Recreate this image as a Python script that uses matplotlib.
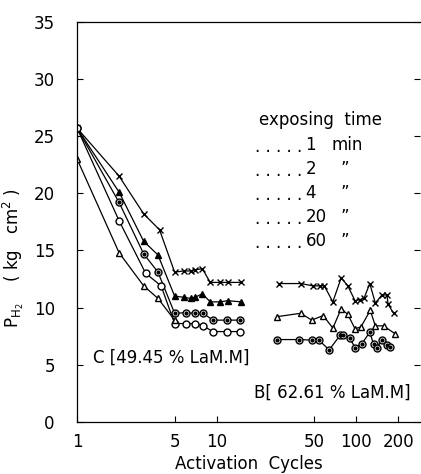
import matplotlib
matplotlib.use("Agg")
import matplotlib.pyplot as plt

# ---------------- data ----------------
# Curve set C [49.45 % LaM.M]
c_x_cycles = [1, 2, 3, 3.9, 5, 5.8, 6.5, 7, 7.9, 9, 10.6, 12, 15]
c_x_vals   = [25.7, 21.5, 18.2, 16.8, 13.1, 13.2, 13.2, 13.3, 13.4, 12.2, 12.2, 12.2, 12.2]

c_tri_cycles = [1, 2, 3, 3.8, 5, 5.8, 6.5, 7, 7.9, 9, 10.6, 12, 15]
c_tri_vals   = [25.7, 20.1, 15.8, 14.6, 11.0, 10.9, 10.8, 10.9, 11.2, 10.5, 10.5, 10.6, 10.5]

c_dot_cycles = [1, 2, 3, 3.8, 5, 6, 7, 8, 9.4, 11.8, 14.7]
c_dot_vals   = [25.7, 19.2, 14.7, 13.1, 9.5, 9.55, 9.5, 9.5, 8.9, 8.9, 8.9]

c_open_cycles = [1, 2, 3.1, 4, 5, 6, 7, 8, 9.4, 11.8, 14.7]
c_open_vals   = [25.7, 17.6, 13.0, 11.9, 8.6, 8.6, 8.6, 8.4, 7.9, 7.9, 7.9]

c_otri_cycles = [1, 2, 3, 3.8, 5]
c_otri_vals   = [23.0, 14.8, 11.9, 10.8, 8.9]

# Curve set B [62.61 % LaM.M]
b_x_cycles = [28, 40, 49, 55, 59, 68, 78, 87, 98, 107, 114, 125, 137, 153, 166, 169, 185]
b_x_vals   = [12.1, 12.1, 11.9, 11.9, 11.9, 10.5, 12.6, 11.9, 10.6, 10.7, 10.85, 12.1, 10.4, 11.1, 11.1, 10.3, 9.5]

b_tri_cycles = [27, 40, 48, 58, 68, 78, 87, 98, 108, 126, 137, 157, 190]
b_tri_vals   = [9.2, 9.5, 8.9, 9.3, 8.2, 9.9, 9.4, 8.15, 8.3, 9.75, 8.4, 8.4, 7.7]

b_dot_cycles = [27, 39, 48, 54, 64, 77, 81, 90, 98, 110, 125, 133, 141, 153, 166, 175]
b_dot_vals   = [7.2, 7.2, 7.15, 7.15, 6.3, 7.6, 7.6, 7.3, 6.5, 6.85, 7.85, 6.8, 6.5, 7.15, 6.7, 6.55]

x_ticks = [1, 5, 10, 50, 100, 200]
x_tick_labels = ["1", "5", "10", "50", "100", "200"]
y_ticks = [0, 5, 10, 15, 20, 25, 30, 35]

legend_title = "exposing  time"
legend_times = ["1", "2", "4", "20", "60"]
legend_units = ["min", "\u201d", "\u201d", "\u201d", "\u201d"]

# ---------------- figure ----------------
plt.rcParams['font.family'] = ['DejaVu Sans']
FS = 12
fig = plt.figure(figsize=(4.21, 4.74), dpi=100)
ax = fig.add_axes([0.183, 0.110, 0.815, 0.844])

lw = 0.9
ms = 5.0
k = 'black'

def curve(xs, ys, marker, mfc, size=ms):
    ax.plot(xs, ys, color=k, lw=lw, marker=marker, ms=size, mfc=mfc, mec=k, mew=1.0)

def dot_curve(xs, ys):
    ax.plot(xs, ys, color=k, lw=lw, marker='o', ms=ms, mfc='white', mec=k, mew=1.0)
    ax.plot(xs, ys, ls='none', marker='o', ms=2.0, mfc=k, mec=k)

curve(c_x_cycles, c_x_vals, 'x', k)
curve(c_tri_cycles, c_tri_vals, '^', k)
dot_curve(c_dot_cycles, c_dot_vals)
curve(c_open_cycles, c_open_vals, 'o', 'white')
curve(c_otri_cycles, c_otri_vals, '^', 'white')

curve(b_x_cycles, b_x_vals, 'x', k)
curve(b_tri_cycles, b_tri_vals, '^', 'white')
dot_curve(b_dot_cycles, b_dot_vals)

ax.set_xscale('log')
ax.set_xlim(1, 287)
ax.set_ylim(0, 35)
ax.set_xticks(x_ticks)
ax.set_xticklabels(x_tick_labels)
ax.xaxis.set_minor_locator(matplotlib.ticker.NullLocator())
ax.set_yticks(y_ticks)

ax.spines['right'].set_visible(False)
for s in ['left', 'bottom', 'top']:
    ax.spines[s].set_linewidth(0.9)
ax.tick_params(axis='both', direction='in', length=4, width=0.8, labelsize=FS)
ax.tick_params(axis='x', pad=8, top=False)
ax.tick_params(axis='y', right=True, left=True, pad=16)

ax.set_xlabel("Activation  Cycles", fontsize=FS)
ax.xaxis.set_label_coords(0.5, -0.082)
ax.set_ylabel(r"P$_{\mathregular{H_2}}$    ( kg   cm$^{\mathregular{2}}$ )", fontsize=FS)
ax.yaxis.set_label_coords(-0.150, 0.41)

# legend-like text block
tr = ax.transAxes
ax.text(0.53, 0.755, legend_title, transform=tr, fontsize=FS, ha='left', va='center')
row_y0 = 0.692
row_dy = 0.060
for i, (t, u) in enumerate(zip(legend_times, legend_units)):
    yy = row_y0 - i * row_dy
    ax.text(0.518, yy - 0.006, ". . . . .", transform=tr, fontsize=FS, ha='left', va='center')
    ax.text(0.666, yy, t, transform=tr, fontsize=FS, ha='left', va='center')
    if u == "min":
        ax.text(0.742, yy, u, transform=tr, fontsize=FS, ha='left', va='center')
    else:
        ax.text(0.768, yy, u, transform=tr, fontsize=FS, ha='left', va='center')

ax.text(1.30, 5.65, "C [49.45 % LaM.M]", fontsize=FS, ha='left', va='center')
ax.text(0.972, 0.074, "B[ 62.61 % LaM.M]", transform=tr, fontsize=FS, ha='right', va='center')

fig.savefig("out.png", dpi=100)
